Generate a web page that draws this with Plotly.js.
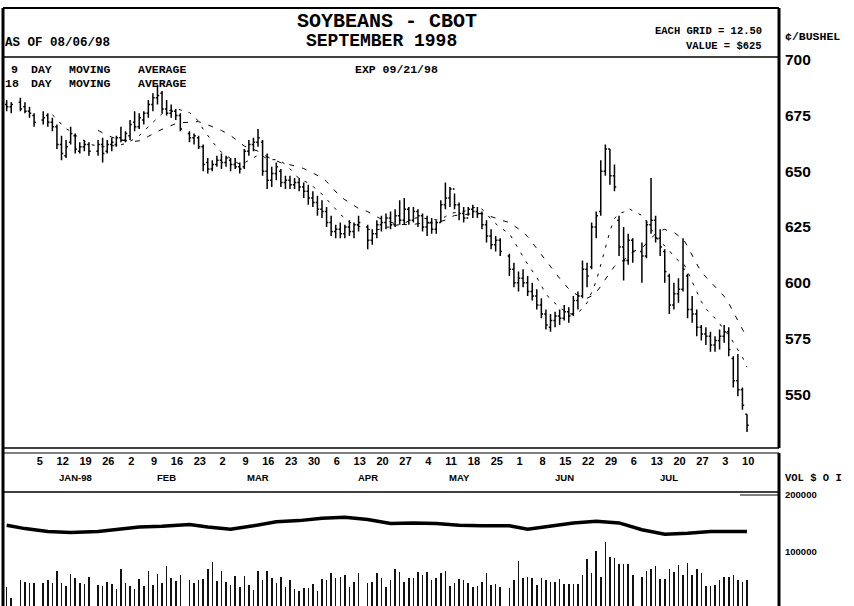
<!DOCTYPE html>
<html><head><meta charset="utf-8">
<script src="https://cdn.plot.ly/plotly-3.0.1.min.js"></script>
<style>html,body{margin:0;padding:0;background:#fff}#chart{width:854px;height:606px}</style>
</head><body><div id="chart"></div>
<script>
// ---------- DATA ----------
const dates = [
 "1997-12-23","1997-12-24","1997-12-26","1997-12-29","1997-12-30","1997-12-31","1998-01-02",
 "1998-01-05","1998-01-06","1998-01-07","1998-01-08","1998-01-09",
 "1998-01-12","1998-01-13","1998-01-14","1998-01-15","1998-01-16",
 "1998-01-20","1998-01-21","1998-01-22","1998-01-23",
 "1998-01-26","1998-01-27","1998-01-28","1998-01-29","1998-01-30",
 "1998-02-02","1998-02-03","1998-02-04","1998-02-05","1998-02-06",
 "1998-02-09","1998-02-10","1998-02-11","1998-02-12","1998-02-13",
 "1998-02-17","1998-02-18","1998-02-19","1998-02-20",
 "1998-02-23","1998-02-24","1998-02-25","1998-02-26","1998-02-27",
 "1998-03-02","1998-03-03","1998-03-04","1998-03-05","1998-03-06",
 "1998-03-09","1998-03-10","1998-03-11","1998-03-12","1998-03-13",
 "1998-03-16","1998-03-17","1998-03-18","1998-03-19","1998-03-20",
 "1998-03-23","1998-03-24","1998-03-25","1998-03-26","1998-03-27",
 "1998-03-30","1998-03-31","1998-04-01","1998-04-02","1998-04-03",
 "1998-04-06","1998-04-07","1998-04-08","1998-04-09",
 "1998-04-13","1998-04-14","1998-04-15","1998-04-16","1998-04-17",
 "1998-04-20","1998-04-21","1998-04-22","1998-04-23","1998-04-24",
 "1998-04-27","1998-04-28","1998-04-29","1998-04-30","1998-05-01",
 "1998-05-04","1998-05-05","1998-05-06","1998-05-07","1998-05-08",
 "1998-05-11","1998-05-12","1998-05-13","1998-05-14","1998-05-15",
 "1998-05-18","1998-05-19","1998-05-20","1998-05-21","1998-05-22",
 "1998-05-26","1998-05-27","1998-05-28","1998-05-29",
 "1998-06-01","1998-06-02","1998-06-03","1998-06-04","1998-06-05",
 "1998-06-08","1998-06-09","1998-06-10","1998-06-11","1998-06-12",
 "1998-06-15","1998-06-16","1998-06-17","1998-06-18","1998-06-19",
 "1998-06-22","1998-06-23","1998-06-24","1998-06-25","1998-06-26",
 "1998-06-29","1998-06-30","1998-07-01","1998-07-02",
 "1998-07-06","1998-07-07","1998-07-08","1998-07-09","1998-07-10",
 "1998-07-13","1998-07-14","1998-07-15","1998-07-16","1998-07-17",
 "1998-07-20","1998-07-21","1998-07-22","1998-07-23","1998-07-24",
 "1998-07-27","1998-07-28","1998-07-29","1998-07-30","1998-07-31",
 "1998-08-03","1998-08-04","1998-08-05","1998-08-06"
];
const openP = [
 680,679,681,679,677,675,673, 675,672,670,662,657, 663,666,659,661,662, 659,662,659,662,
 662,665,664,666,672, 670,673,676,680,683, 685,678,676,677,675, 667,665,665,661,
 654,651,653,655,654, 655,653,652,652,659, 662,663,663,650,646, 649,650,645,646,644,
 645,643,641,638,636, 633,632,627,623,624, 622,625,623,626, 625,619,622,626,627,
 629,626,630,628,633, 628,632,630,625,627, 624,627,635,638,642, 635,631,629,633,632,
 631,626,621,617,619, 612,606,600,602, 600,596,594,590,586, 580,583,585,584,587,
 586,592,594,606,607, 625,632,650,660,648, 628,616,610,619, 614,612,626,628,620,
 614,603,590,595,597, 603,588,586,580,577, 576,572,574,576,578, 566,556,552,541
];
const highP = [
 682,681,683,681,679,676,677, 676,674,671,666,664, 670,667,663,664,663, 664,665,664,665,
 666,670,668,673,677, 676,677,682,685,689, 686,682,680,678,676, 668,667,666,662,
 656,655,657,658,657, 656,656,654,660,664, 665,669,664,658,652, 654,651,648,648,647,
 647,645,644,641,639, 637,634,630,626,627, 626,628,627,630, 626,624,628,630,631,
 632,633,637,638,634, 634,633,631,630,629, 628,637,645,643,640, 636,634,634,635,634,
 632,628,624,621,620, 613,609,605,606, 603,600,597,593,588, 586,587,588,590,589,
 594,596,610,609,627, 632,655,662,660,653, 630,625,622,620, 618,628,647,630,624,
 615,604,600,602,620, 604,594,588,581,580, 578,576,579,581,580, 567,568,553,541
];
const lowP = [
 677,676,677,676,674,670,671, 670,668,660,655,656, 662,658,658,659,657, 657,654,658,659,
 661,663,663,664,668, 669,671,674,677,680, 676,675,674,673,668, 663,662,660,650,
 649,650,652,651,652, 650,651,649,651,657, 659,661,648,642,643, 646,643,642,642,642,
 641,638,635,634,630, 629,625,621,620,620, 620,621,620,623, 615,617,620,623,624,
 624,625,626,626,626, 627,625,623,621,622, 622,627,633,634,633, 628,627,630,629,629,
 624,618,615,614,612, 603,598,596,598, 594,592,588,584,579, 578,580,581,583,582,
 585,588,593,598,606, 620,630,648,644,641, 612,601,608,609, 600,611,622,618,612,
 600,586,588,591,596, 584,582,576,574,572, 569,569,570,573,567, 553,549,543,533
];
const closeP = [
 679,680,678,677,676,672,674, 672,670,662,658,661, 667,660,661,662,659, 662,658,662,663,
 665,664,667,671,670, 674,676,680,683,684, 678,676,677,675,669, 665,666,661,653,
 651,653,655,654,656, 653,652,651,659,662, 663,665,650,646,649, 652,645,646,644,645,
 643,641,638,636,633, 632,627,623,624,622, 625,623,626,627, 619,622,626,627,629,
 626,630,628,633,628, 632,630,625,627,624, 627,635,638,642,635, 631,629,633,632,631,
 626,621,617,619,614, 606,600,602,600, 596,594,590,586,581, 583,585,584,587,585,
 592,594,606,603,625, 630,650,660,648,643, 616,610,619,614, 612,626,628,620,616,
 605,590,595,597,606, 588,586,580,577,576, 572,574,576,578,570, 556,552,545,536
];
// daily volume, thousands of contracts
const volumeK = [
 39,19,51,48,46,45,46,51,46,67, 46,40,61,54,45,44,56,42,40,48,44,
 35,70,46,40,35,52,40,67,42,61, 46,75,54,49,59,50,46,51,52,70,83,
 49,67,48,42,58,38,58,42,33,67, 51,67,55,45,56,38,51,35,32,36,
 36,44,32,52,51,63,54,57,60,38,47, 63,46,48,64,55,38,51,71,65,48, 55,54,65,60,65,
 51,54,64,66,41,45,52,51,46,38,40,48,64,42,44,38,36,50,84,54,57,54,
 42,54,51,47,47,52,44,44,44,44,60,87,63,101,57,117,92,89,79,79,79,60,
 57,67,70,75,53,53,70,65,77,60,81,60,70,64,40,40,42,50,57,56,60,51,48,51
];
// open interest, thousands of contracts
const oiDates = ["1997-12-23","1997-12-29","1998-01-05","1998-01-12","1998-01-20","1998-01-26",
 "1998-02-02","1998-02-09","1998-02-17","1998-02-23","1998-03-02","1998-03-09","1998-03-16",
 "1998-03-23","1998-03-30","1998-04-06","1998-04-13","1998-04-20","1998-04-27","1998-05-04",
 "1998-05-11","1998-05-18","1998-05-26","1998-06-01","1998-06-08","1998-06-15","1998-06-22",
 "1998-06-29","1998-07-06","1998-07-13","1998-07-20","1998-07-27","1998-08-03","1998-08-06"];
const oiK = [147,141,136,134,136,140,144,145,148,144,140,146,153,155,159,161,157,150,151,150,
 147,146,146,140,145,151,154,151,139,131,133,136,136,136];
const weekTicks = ["1998-01-05","1998-01-12","1998-01-19","1998-01-26","1998-02-02","1998-02-09",
 "1998-02-16","1998-02-23","1998-03-02","1998-03-09","1998-03-16","1998-03-23","1998-03-30",
 "1998-04-06","1998-04-13","1998-04-20","1998-04-27","1998-05-04","1998-05-11","1998-05-18",
 "1998-05-25","1998-06-01","1998-06-08","1998-06-15","1998-06-22","1998-06-29","1998-07-06",
 "1998-07-13","1998-07-20","1998-07-27","1998-08-03","1998-08-10"];
const weekTickText = ["5","12","19","26","2","9","16","23","2","9","16","23","30","6","13","20","27",
 "4","11","18","25","1","8","15","22","29","6","13","20","27","3","10"];
const monthLabels = ["JAN-98","FEB","MAR","APR","MAY","JUN","JUL"];
const monthLabelDates = ["1998-01-13","1998-02-10","1998-03-10","1998-04-13","1998-05-11","1998-06-11","1998-07-14"];
const priceTicks = [550,575,600,625,650,675,700];
const volTicks = [100000,200000];
const shortMA = 9, longMA = 18;

// ---------- helpers ----------
const START = Date.UTC(1997,11,22); // Monday
function wd(s){const p=s.split('-').map(Number);const d=Math.round((Date.UTC(p[0],p[1]-1,p[2])-START)/86400000);return Math.floor(d/7)*5+Math.min(d%7,5);}
function sma(a,n){return a.map((v,i)=>i<n-1?null:a.slice(i-n+1,i+1).reduce((s,b)=>s+b,0)/n);}
const X = dates.map(wd);
const LABEL_SHIFT = -1.75;
const W=854,H=606;
const fx=p=>p/W, fy=p=>1-p/H;
const mono='Liberation Mono, Courier New, monospace';
const sans='Liberation Sans, Arial, sans-serif';
const pxPerDay=4.57, x0px=2.1;
const xr=[(3-x0px)/pxPerDay,(779-x0px)/pxPerDay];

const traces=[
 {type:'scatter',mode:'lines',x:X,y:sma(closeP,shortMA),xaxis:'x',yaxis:'y',line:{color:'#000',width:1,dash:'3px,7px'},hoverinfo:'skip'},
 {type:'scatter',mode:'lines',x:X,y:sma(closeP,longMA),xaxis:'x',yaxis:'y',line:{color:'#000',width:1,dash:'5px,8px'},hoverinfo:'skip'},
 {type:'ohlc',x:X,open:openP,high:highP,low:lowP,close:closeP,xaxis:'x',yaxis:'y',
  increasing:{line:{color:'#000',width:1.5}},decreasing:{line:{color:'#000',width:1.5}},tickwidth:0.38,hoverinfo:'skip'},
 {type:'bar',x:X,y:volumeK.map(v=>v*1000),xaxis:'x2',yaxis:'y2',width:0.34,marker:{color:'#111',line:{width:0}},hoverinfo:'skip'},
 {type:'scatter',mode:'lines',x:oiDates.map(wd),y:oiK.map(v=>v*1000),xaxis:'x2',yaxis:'y2',line:{color:'#000',width:3.5},hoverinfo:'skip'}
];

function hl(y,xa,xb,w){return {type:'line',xref:'paper',yref:'paper',x0:fx(xa),x1:fx(xb),y0:fy(y),y1:fy(y),line:{color:'#000',width:w}};}
function vl(x,ya,yb,w){return {type:'line',xref:'paper',yref:'paper',x0:fx(x),x1:fx(x),y0:fy(ya),y1:fy(yb),line:{color:'#000',width:w}};}
const shapes=[
 vl(3,8,606,3), hl(8,3,779,2), hl(57,3,779,1.5), vl(779,8,448,3),
 hl(448,3,779,1.5), hl(453,3,779,1), hl(492,3,779,1.5), vl(779,453,606,3), hl(495,740,779,1)
];
function txt(t,x,y,size,anchor,fam){return {text:t,xref:'paper',yref:'paper',x:fx(x),y:fy(y),xanchor:anchor||'center',yanchor:'middle',showarrow:false,font:{family:fam||mono,size:size,color:'#000',weight:'bold'}};}
const annotations=[
 txt('SOYBEANS - CBOT',387,21,20),
 txt('SEPTEMBER 1998',381,41,18),
 txt('AS OF 08/06/98',3,43,12.5,'left'),
 txt('EACH GRID = 12.50',764,31,10.5,'right'),
 txt('VALUE = $625',764,46,10.5,'right'),
 txt('\u00A2/BUSHEL',783,36,11.5,'left'),
 txt('EXP 09/21/98',396,69,11.5),
 txt(shortMA+'',14,70,11.5), txt('DAY',41,70,11.5), txt('MOVING',90,70,11.5), txt('AVERAGE',162,70,11.5),
 txt(longMA+'',12,83,11.5), txt('DAY',41,83,11.5), txt('MOVING',90,83,11.5), txt('AVERAGE',162,83,11.5),
 txt('VOL $ O I',783,478,10.5,'left')
];
monthLabels.forEach((m,i)=>annotations.push({text:m,xref:'x',yref:'paper',x:wd(monthLabelDates[i]),y:fy(477),
 xanchor:'center',yanchor:'middle',showarrow:false,font:{family:sans,size:9.5,color:'#000',weight:'bold'}}));

const layout={
 width:W,height:H,margin:{l:0,r:0,t:0,b:0},paper_bgcolor:'#fff',plot_bgcolor:'rgba(0,0,0,0)',showlegend:false,
 xaxis:{domain:[fx(3),fx(779)],range:xr,anchor:'y',tickmode:'array',tickvals:weekTicks.map(d=>wd(d)+LABEL_SHIFT),ticktext:weekTickText,
  ticks:'',showgrid:false,zeroline:false,showline:false,ticklabelstandoff:5,tickangle:0,
  tickfont:{family:sans,size:11,color:'#000',weight:'bold'},rangeslider:{visible:false},fixedrange:true},
 yaxis:{domain:[fy(448),fy(57)],range:[525.8,701.3],side:'right',anchor:'x',tickmode:'array',tickvals:priceTicks,
  ticks:'',showgrid:false,zeroline:false,showline:false,ticklabelstandoff:5,
  tickfont:{family:sans,size:15.5,color:'#000',weight:'bold'}},
 xaxis2:{domain:[fx(3),fx(779)],range:xr,anchor:'y2',showticklabels:false,ticks:'',showgrid:false,zeroline:false,showline:false},
 yaxis2:{domain:[0,fy(490)],range:[5263,208700],side:'right',anchor:'x2',tickmode:'array',tickvals:volTicks,ticktext:volTicks.map(String),
  ticks:'',showgrid:false,zeroline:false,showline:false,ticklabelstandoff:5,
  tickfont:{family:sans,size:9.5,color:'#000',weight:'bold'}},
 shapes:shapes,annotations:annotations,bargap:0
};
Plotly.newPlot('chart',traces,layout,{staticPlot:true,displayModeBar:false});
</script></body></html>
